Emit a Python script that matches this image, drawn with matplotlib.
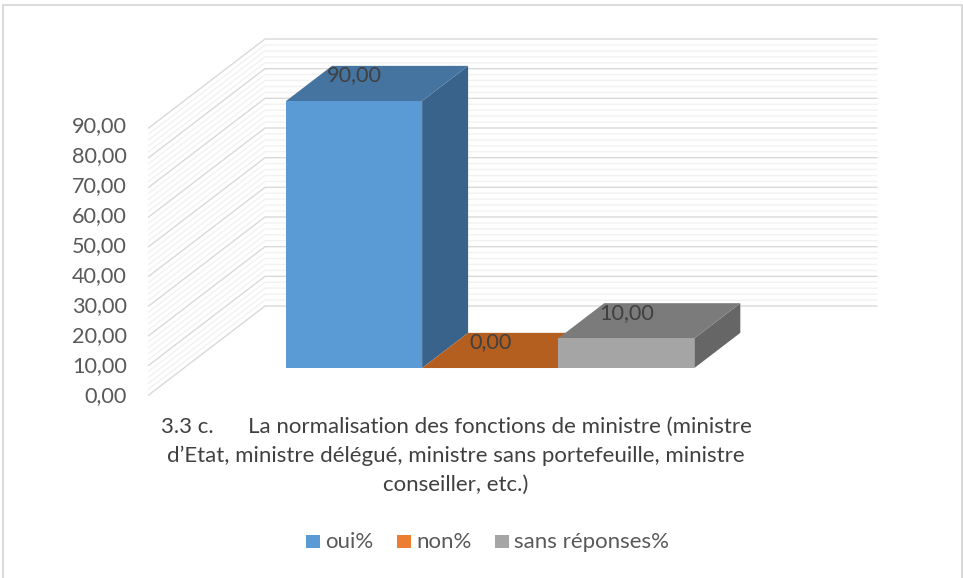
import matplotlib
matplotlib.use("Agg")
import matplotlib.pyplot as plt
from matplotlib.patches import Polygon, Rectangle
from matplotlib.transforms import Affine2D

# Data
series_names = ["oui%", "non%", "sans réponses%"]
series_values = [90.0, 0.0, 10.0]
value_ticks = [0, 10, 20, 30, 40, 50, 60, 70, 80, 90]
minor_step = 2
title_lines = ["3.3 c.      La normalisation des fonctions de ministre (ministre",
               "d’Etat, ministre délégué, ministre sans portefeuille, ministre",
               "conseiller, etc.)"]

front_colors = ["#5B9BD5", "#ED7D31", "#A5A5A5"]
top_colors = ["#4674A0", "#B45F20", "#7B7B7B"]
side_colors = ["#39638A", "#8E4B1C", "#666666"]

W, H = 963, 578
FONT = "Lato"
fig = plt.figure(figsize=(W / 100, H / 100), dpi=100, facecolor="white")

# Figure-wide pixel overlay for the chart frame, labels and legend
bg = fig.add_axes([0, 0, 1, 1])
bg.set_xlim(0, W)
bg.set_ylim(H, 0)
bg.axis("off")
bg.plot([2.5, 2.5, 961.5, 961.5], [H, 4.5, 4.5, H], color="#D9D9D9", lw=1.4, clip_on=False)

# Front plane of the oblique 3-D box: one category, gap 150 %
L, R, Y0, Y90 = 148, 760.5, 395.5, 128.5
ax = fig.add_axes([L / W, 1 - Y0 / H, (R - L) / W, (Y0 - Y90) / H])
ax.set_xlim(-0.75, 3.75)
ax.set_ylim(0, 90)
ax.axis("off")

px_x = (R - L) / 4.5
px_y = (Y0 - Y90) / 90
DX = 117 / px_x
DY = 89.5 / px_y
D0, D1 = 0.307, 0.70
XMIN, XMAX = ax.get_xlim()


def proj(x, v, d):
    return (x + d * DX, v + d * DY)


def line(points, **kw):
    xs, ys = zip(*points)
    ax.plot(xs, ys, clip_on=False, solid_capstyle="butt", **kw)


vmax = max(value_ticks)
for v in range(0, vmax + 1, minor_step):
    if v % 10 == 0:
        continue
    line([proj(XMIN, v, 0), proj(XMIN, v, 1), proj(XMAX, v, 1)],
         color="#F2F2F2", lw=1.0, zorder=1)
for v in value_ticks:
    line([proj(XMIN, v, 0), proj(XMIN, v, 1), proj(XMAX, v, 1)],
         color="#D9D9D9", lw=1.0, zorder=2)

label_shift = Affine2D().translate(0, -9.5)
for i, (val, cf, ct, cs) in enumerate(zip(series_values, front_colors, top_colors, side_colors)):
    x0, x1 = float(i), float(i + 1)
    z = 5 + i
    ax.add_patch(Polygon([proj(x1, 0, D0), proj(x1, 0, D1), proj(x1, val, D1), proj(x1, val, D0)],
                         fc=cs, ec="none", clip_on=False, zorder=z))
    ax.add_patch(Polygon([proj(x0, val, D0), proj(x1, val, D0), proj(x1, val, D1), proj(x0, val, D1)],
                         fc=ct, ec="none", clip_on=False, zorder=z + 0.01))
    if val > 0:
        ax.add_patch(Polygon([proj(x0, 0, D0), proj(x1, 0, D0), proj(x1, val, D0), proj(x0, val, D0)],
                             fc=cf, ec="none", clip_on=False, zorder=z + 0.02))
    lx = proj(x0 + 0.5, val, D0)[0]
    ly = proj(x0 + 0.5, val, D1)[1]
    ax.text(lx, ly, f"{val:.2f}".replace(".", ","), ha="center", va="center",
            fontsize=15.6, family=FONT, color="#404040", zorder=12,
            transform=ax.transData + label_shift)

# Value-axis labels
for v in value_ticks:
    bg.text(127, Y0 - v * 3.0 + 1, f"{v:.2f}".replace(".", ","), ha="right", va="center",
            fontsize=15.6, family=FONT, color="#595959")

for k, t in enumerate(title_lines):
    bg.text(456, 426.5 + k * 29, t, ha="center", va="center", fontsize=16,
            family=FONT, color="#404040")

# Legend
for name, col, sx, tx in zip(series_names, front_colors, [306, 397, 495], [325, 416, 514]):
    bg.add_patch(Rectangle((sx, 535), 13.5, 13, fc=col, ec="none"))
    bg.text(tx, 542, name, ha="left", va="center", fontsize=16, family=FONT, color="#595959")

fig.savefig("out.png", dpi=100, facecolor="white")
